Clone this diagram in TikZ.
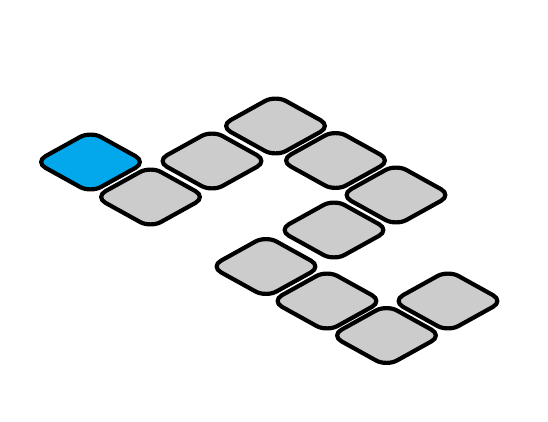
\documentclass[tikz,border=0pt]{standalone}
\definecolor{tilegray}{RGB}{204,204,204}
\definecolor{tileblue}{RGB}{2,167,236}
\begin{document}
\begin{tikzpicture}[x=1pt,y=-1pt,
  tile/.style={draw=black, line width=4.2pt, line join=round, rounded corners=12pt, fill=tilegray},
  bluetile/.style={tile, fill=tileblue}]
\useasboundingbox (0,0) rectangle (548,422);
\newcommand\tileshape[3]{%
  \draw[#3, shift={(#1,#2)}] (-27.75,-15.4) -- (0,-30.8) -- (55.5,0) -- (0,30.8) -- (-55.5,0) -- cycle;}
\tileshape{90.5}{162}{bluetile}
\tileshape{150.5}{197}{tile}
\tileshape{212}{161}{tile}
\tileshape{275.5}{126}{tile}
\tileshape{335.5}{160.5}{tile}
\tileshape{396}{195}{tile}
\tileshape{334}{230}{tile}
\tileshape{266}{266.5}{tile}
\tileshape{327}{301}{tile}
\tileshape{386.5}{335.5}{tile}
\tileshape{448}{301}{tile}
\end{tikzpicture}
\end{document}
